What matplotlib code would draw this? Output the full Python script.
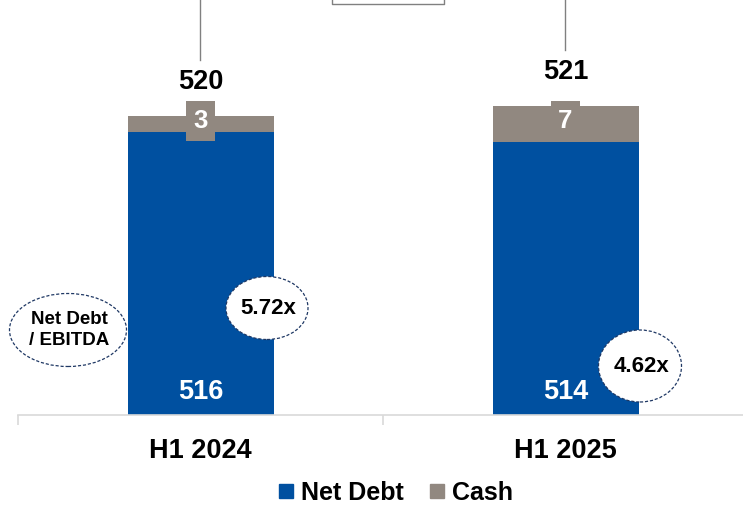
import matplotlib.pyplot as plt
from matplotlib.patches import Ellipse
from matplotlib.lines import Line2D

periods = ["H1 2024", "H1 2025"]
net_debt = [516, 514]
cash = [3, 7]
totals = [520, 521]
leverage = ["5.72x", "4.62x"]

BLUE = "#0050A0"
GREY = "#918880"
NAVY = "#1F3864"
W, H = 743, 507
Y0, SCALE = 461.5, 5.2   # value at the baseline, pixels per unit

plt.rcParams['font.family'] = ['Liberation Sans', 'DejaVu Sans']
plt.rcParams['font.weight'] = 'bold'

fig = plt.figure(figsize=(W / 100, H / 100), dpi=100)
ax = fig.add_axes([18 / W, 92 / H, 730 / W, 415 / H])

def fp(x, y):
    # pixel position (from top-left) -> figure fraction
    return x / W, 1 - y / H

x = range(len(periods))
ax.bar(x, net_debt, width=0.4, color=BLUE, zorder=2)
ax.bar(x, cash, bottom=net_debt, width=0.4, color=GREY, zorder=2)

ax.set_xlim(-0.5, 1.5)
ax.set_ylim(Y0, Y0 + 415 / SCALE)

for i in x:
    ax.text(i, Y0 + 23 / SCALE, str(net_debt[i]), ha='center', va='center',
            color='white', fontsize=19.5, fontweight='bold', zorder=3)
    ax.annotate(str(cash[i]), (i, net_debt[i] + cash[i] / 2), xytext=(0, 3),
                textcoords='offset pixels', ha='center', va='center',
                color='white', fontsize=18.5, fontweight='bold', zorder=4,
                bbox=dict(boxstyle='square,pad=0.3', fc=GREY, ec='none'))
    ax.annotate(str(totals[i]), (i, net_debt[i] + cash[i]), xytext=(0, 34),
                textcoords='offset pixels', ha='center', va='center',
                fontsize=19.5, fontweight='bold', color='black')

# axis line and category separators
for s in ['top', 'right', 'left']:
    ax.spines[s].set_visible(False)
ax.spines['bottom'].set_color('#D9D9D9')
ax.spines['bottom'].set_linewidth(1.2)
ax.set_yticks([])
ax.set_xticks([-0.5, 0.5, 1.5])
ax.set_xticklabels([])
ax.tick_params(axis='x', length=7, width=1.2, color='#D9D9D9')
for i, p in enumerate(periods):
    ax.text(i, -0.087, p, transform=ax.get_xaxis_transform(), ha='center', va='center',
            fontsize=19.5, fontweight='bold')

# leverage callouts
callouts = [((68, 330), 117, 73, "Net Debt\n/ EBITDA", 13.5),
            ((267, 308), 82, 63, leverage[0], 16),
            ((640, 366), 83, 72, leverage[1], 16)]
for (cx, cy), ew, eh, txt, fs in callouts:
    e = Ellipse(fp(cx, cy), ew / W, eh / H, transform=fig.transFigure, fc='white',
                ec=NAVY, lw=0.9, ls=(0, (2.5, 1.5)), zorder=5)
    fig.add_artist(e)
    fig.text(*fp(cx + 1, cy), txt, ha='center', va='center', fontsize=fs,
             fontweight='bold', linespacing=1.3, zorder=6)

# connector lines running off the top
for lx, ly in [(200, 60), (565, 50)]:
    fig.add_artist(Line2D([lx / W, lx / W], [1, 1 - ly / H], transform=fig.transFigure,
                          color='#808080', lw=1))
fig.add_artist(Line2D([332 / W, 332 / W, 444 / W, 444 / W], [1, 1 - 4 / H, 1 - 4 / H, 1],
                      transform=fig.transFigure, color='#808080', lw=1))

handles = [Line2D([], [], marker='s', ls='none', color=BLUE, markersize=10),
           Line2D([], [], marker='s', ls='none', color=GREY, markersize=10)]
fig.legend(handles, ['Net Debt', 'Cash'], loc='center', bbox_to_anchor=fp(395, 493),
           ncol=2, frameon=False, handlelength=0.7, handletextpad=0.25,
           columnspacing=1.0, prop=dict(size=18, weight='bold'))

fig.savefig('out.png', dpi=100)
